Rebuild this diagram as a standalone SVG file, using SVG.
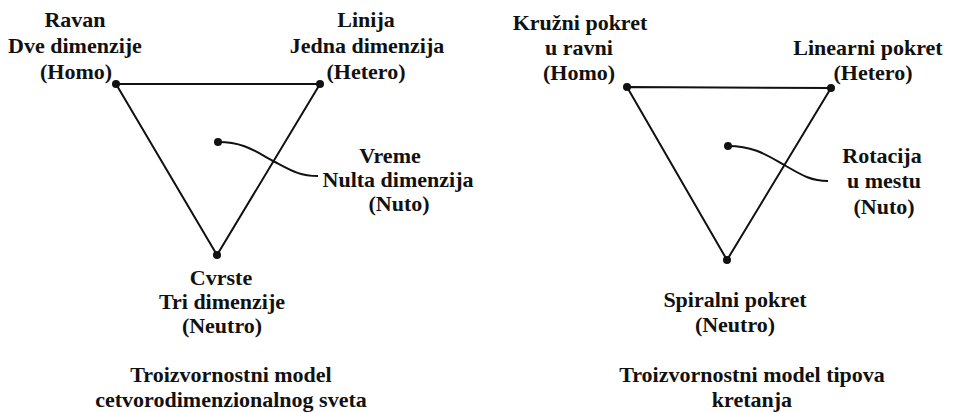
<svg xmlns="http://www.w3.org/2000/svg" width="953" height="412" viewBox="0 0 953 412">
<rect width="953" height="412" fill="#fff"/>
<g id="connectors" stroke="#111" stroke-width="2" fill="none">
<path d="M116,84 L320,84 L217,255 Z"/>
<path d="M218,142 C245,142 256,152 275,162 C292,171 300,176 318,176"/>
<path d="M627,87 L831,88 L727,260 Z"/>
<path d="M728,146 C755,146 768,156 786,166 C803,176 812,181 828,181"/>
</g>
<g fill="#111" font-family="Liberation Serif, serif" font-weight="bold" font-size="22" text-anchor="middle">
<g id="left-homo"><circle cx="116" cy="84" r="4"/><text x="75" y="27">Ravan</text><text x="75" y="53">Dve dimenzije</text><text x="76" y="79">(Homo)</text></g>
<g id="left-hetero"><circle cx="320" cy="84" r="4"/><text x="366" y="27">Linija</text><text x="367" y="53">Jedna dimenzija</text><text x="366" y="79">(Hetero)</text></g>
<g id="left-nuto"><circle cx="218" cy="142" r="4"/><text x="390" y="163">Vreme</text><text x="398" y="187">Nulta dimenzija</text><text x="399" y="211">(Nuto)</text></g>
<g id="left-neutro"><circle cx="217" cy="255" r="4"/><text x="221" y="285">Cvrste</text><text x="222" y="309">Tri dimenzije</text><text x="222" y="333">(Neutro)</text></g>
<g id="left-title"><text x="231" y="382">Troizvornostni model</text><text x="231" y="407">cetvorodimenzionalnog sveta</text></g>
<g id="right-homo"><circle cx="627" cy="87" r="4"/><text x="580" y="30">Kružni pokret</text><text x="579" y="55">u ravni</text><text x="579" y="80">(Homo)</text></g>
<g id="right-hetero"><circle cx="831" cy="88" r="4"/><text x="868" y="55">Linearni pokret</text><text x="873" y="80">(Hetero)</text></g>
<g id="right-nuto"><circle cx="728" cy="146" r="4"/><text x="882" y="163">Rotacija</text><text x="884" y="188">u mestu</text><text x="884" y="214">(Nuto)</text></g>
<g id="right-neutro"><circle cx="727" cy="260" r="4"/><text x="735" y="307">Spiralni pokret</text><text x="735" y="332">(Neutro)</text></g>
<g id="right-title"><text x="752" y="382">Troizvornostni model tipova</text><text x="752" y="407">kretanja</text></g>
</g>
</svg>
